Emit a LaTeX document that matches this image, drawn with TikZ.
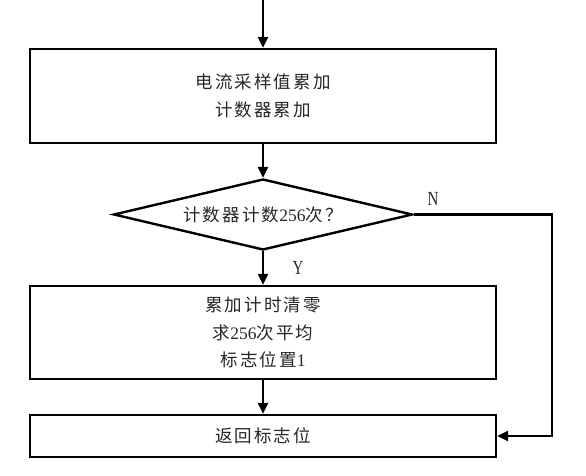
\documentclass[tikz,border=0pt]{standalone}
\usepackage{fontspec}
\setmainfont{Liberation Serif}
\newfontfamily\cjk[LetterSpace=12]{Noto Sans CJK SC}
\newfontfamily\narrowserif[FakeStretch=0.75]{Liberation Serif}
\usetikzlibrary{arrows.meta,shapes.geometric}
\begin{document}
\begin{tikzpicture}[x=1pt,y=-1pt,
  box/.style={draw, line width=2.4pt, minimum width=466pt, inner sep=0pt,
    align=center, font=\fontsize{17.5}{27.5}\selectfont, text=black!85},
  dec/.style={draw, diamond, line width=2.4pt, shape aspect=4.2, inner sep=0pt,
    minimum width=299pt, minimum height=71pt, font=\fontsize{17.5}{20}\selectfont, text=black!85},
  flow/.style={line width=2.4pt, -{Triangle[length=11pt,width=10pt]}},
  lab/.style={font=\narrowserif\fontsize{20}{22}\selectfont, text=black!85, inner sep=0pt}]
\useasboundingbox (0,0) rectangle (586,476);
\coordinate (start) at (263,0);
\node[box, minimum height=94pt] (b1) at (263,96) {{\cjk 电流采样值累加}\\{\cjk 计数器累加}};
\node[dec] (d) at (263,214.5) {{\cjk 计数器计数}256{\cjk 次？}};
\node[box, minimum height=93pt] (b2) at (263,332.5) {{\cjk 累加计时清零}\\{\cjk 求}256{\cjk 次平均}\\{\cjk 标志位置}1};
\node[box, minimum height=42pt] (b3) at (263,436) {{\cjk 返回标志位}};
\coordinate (r) at (552,214.5);
\node[lab] (n) at (433,199) {N};
\node[lab] (y) at (298,268) {Y};
\draw[flow] (start) -- (b1);
\draw[flow] (b1) -- (d);
\draw[flow] (d) -- (b2);
\draw[flow] (b2) -- (b3);
\draw[flow] (d.east) -- (r) |- (b3.east);
\end{tikzpicture}
\end{document}
